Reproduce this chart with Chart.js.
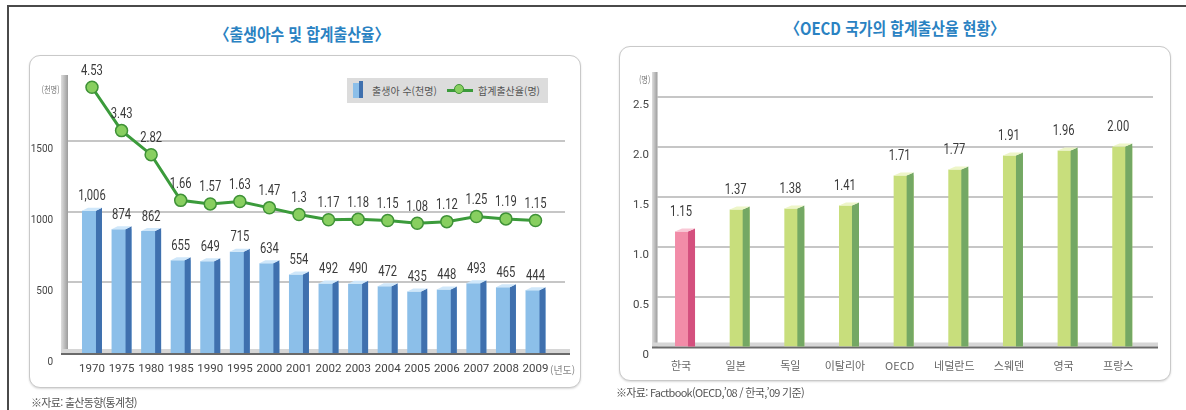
<!DOCTYPE html>
<html lang="ko">
<head>
<meta charset="utf-8">
<script src="https://cdn.jsdelivr.net/npm/chart.js@4.4.1/dist/chart.umd.min.js"></script>
<style>
  body { margin: 0; width: 1186px; height: 410px; position: relative; overflow: hidden; background: #fff; font-family: 'Noto Sans CJK KR', sans-serif; }
  .frame-top { position: absolute; left: 7px; top: 5px; width: 1179px; height: 2px; background: #4a4a4a; }
  .frame-left { position: absolute; left: 7px; top: 5px; width: 2px; height: 405px; background: #4a4a4a; }
  .panel { position: absolute; border: 1.5px solid #c9c9c9; border-radius: 11px; box-shadow: 0 1px 2px rgba(0,0,0,0.15); background: #fff; }
  .title { position: absolute; text-align: center; color: #2a82c2; font-size: 16.5px; font-weight: bold; white-space: nowrap; }
  .title span { display: inline-block; transform: scaleX(0.9); }
  .note { position: absolute; font-size: 11px; color: #555; letter-spacing: -0.7px; white-space: nowrap; }
  .unit { position: absolute; font-size: 9px; color: #777; white-space: nowrap; }
  canvas { position: absolute; top: 0; }
  #legend { position: absolute; left: 347px; top: 78px; width: 201px; height: 25px; background: #dcdcdc; font-size: 10px; color: #555; z-index: 2; }
  #legend .bar-ico { position: absolute; left: 6px; top: 5px; width: 6px; height: 15px; background: #8cbfe9; }
  #legend .bar-ico::after { content: ''; position: absolute; left: 6px; top: -2px; width: 4px; height: 17px; background: #3f70ae; }
  #legend .t1 { position: absolute; left: 25px; top: 5px; }
  #legend .line-ico { position: absolute; left: 100px; top: 11px; width: 26px; height: 3px; background: #3b9b3b; }
  #legend .line-ico::after { content: ''; position: absolute; left: 7px; top: -5px; width: 10px; height: 10px; border-radius: 50%; background: #88cf60; border: 1px solid #3f9237; box-sizing: border-box; }
  #legend .t2 { position: absolute; left: 131px; top: 5px; }
</style>
</head>
<body>
<div class="frame-top"></div>
<div class="frame-left"></div>

<div class="panel" style="left:29px;top:55px;width:550px;height:331px"></div>
<div class="panel" style="left:619px;top:46px;width:550px;height:333px"></div>

<div class="title" style="left:0;width:604px;top:22px"><span>〈출생아수 및 합계출산율〉</span></div>
<div class="title" style="left:620px;width:550px;top:16px"><span>〈OECD 국가의 합계출산율 현황〉</span></div>

<canvas id="births" width="600" height="410" style="left:0"></canvas>
<canvas id="oecd" width="586" height="410" style="left:600px"></canvas>

<div id="legend">
  <span class="bar-ico"></span><span class="t1">출생아 수(천명)</span>
  <span class="line-ico"></span><span class="t2">합계출산율(명)</span>
</div>

<div class="unit" style="right:1126px;top:83px;transform:scaleX(0.8);transform-origin:right">(천명)</div>
<div class="unit" style="left:550px;top:362px;font-size:10px;color:#888">(년도)</div>
<div class="unit" style="right:536px;top:73px;transform:scaleX(0.8);transform-origin:right">(명)</div>

<div class="note" style="left:31px;top:394px">※자료: 출산동향(통계청)</div>
<div class="note" style="left:616px;top:384px">※자료: Factbook(OECD,’08 / 한국,’09 기준)</div>

<script>
// 출생아 수 및 합계출산율
const years = ['1970', '1975', '1980', '1985', '1990', '1995', '2000', '2001', '2002', '2003', '2004', '2005', '2006', '2007', '2008', '2009'];
const births = [1006, 874, 862, 655, 649, 715, 634, 554, 492, 490, 472, 435, 448, 493, 465, 444];
const tfr = [4.53, 3.43, 2.82, 1.66, 1.57, 1.63, 1.47, 1.3, 1.17, 1.18, 1.15, 1.08, 1.12, 1.25, 1.19, 1.15];
const birthTicks = [0, 500, 1000, 1500];

// OECD 국가의 합계출산율
const countries = ['한국', '일본', '독일', '이탈리아', 'OECD', '네덜란드', '스웨덴', '영국', '프랑스'];
const oecdTfr = [1.15, 1.37, 1.38, 1.41, 1.71, 1.77, 1.91, 1.96, 2.00];
const oecdTicks = [0, 0.5, 1.0, 1.5, 2.0, 2.5];

const NUM = "Roboto, 'Liberation Sans', sans-serif";
const KOREAN = "'Noto Sans CJK KR', sans-serif";

// 벽, 바닥, 눈금선
const backdrop = {
    id: 'backdrop',
    beforeDatasetsDraw(chart, args, o) {
        const { ctx, chartArea } = chart;
        const y = chart.scales.y;
        ctx.save();
        ctx.strokeStyle = '#c6c6c6';
        ctx.lineWidth = 2;
        y.ticks.forEach(t => {
            if (t.value === 0) return;
            const py = Math.round(y.getPixelForValue(t.value));
            ctx.beginPath();
            ctx.moveTo(o.wall[1], py);
            ctx.lineTo(o.gridEnd, py);
            ctx.stroke();
        });
        const g = ctx.createLinearGradient(o.wall[0], 0, o.wall[1], 0);
        g.addColorStop(0, '#dedede');
        g.addColorStop(1, '#9c9c9c');
        ctx.fillStyle = g;
        ctx.fillRect(o.wall[0], chartArea.top, o.wall[1] - o.wall[0], chartArea.bottom - chartArea.top);
        ctx.fillStyle = '#d6d6d6';
        ctx.fillRect(o.wall[0], chartArea.bottom - 4, o.floorEnd - o.wall[0], 4);
        ctx.fillStyle = '#6a6a6a';
        ctx.fillRect(o.wall[0], chartArea.bottom, o.floorEnd - o.wall[0], 2);
        ctx.restore();
    }
};

// 막대 옆면과 윗면
const bar3d = {
    id: 'bar3d',
    afterDatasetDraw(chart, args, o) {
        if (args.meta.type !== 'bar') return;
        const ctx = chart.ctx;
        ctx.save();
        args.meta.data.forEach((bar, i) => {
            const { x, y, base, width } = bar.getProps(['x', 'y', 'base', 'width'], true);
            const x0 = x - width / 2, x1 = x + width / 2, d = o.depth, r = o.rise;
            const c = o.colors(i);
            ctx.fillStyle = c.side;
            ctx.beginPath();
            ctx.moveTo(x1 - d, y);
            ctx.lineTo(x1, y - r);
            ctx.lineTo(x1, base);
            ctx.lineTo(x1 - d, base);
            ctx.closePath();
            ctx.fill();
            ctx.fillStyle = c.top;
            ctx.beginPath();
            ctx.moveTo(x0, y);
            ctx.lineTo(x1 - d, y);
            ctx.lineTo(x1, y - r);
            ctx.lineTo(x0 + d, y - r);
            ctx.closePath();
            ctx.fill();
        });
        ctx.restore();
    }
};

// 값 표시 (좁은 글꼴 흉내: 가로로 눌러서 그림)
const valueLabels = {
    id: 'valueLabels',
    afterDatasetsDraw(chart, args, o) {
        const ctx = chart.ctx;
        chart.data.datasets.forEach((ds, di) => {
            const meta = chart.getDatasetMeta(di);
            const fmt = o.format[di];
            meta.data.forEach((el, i) => {
                const shift = meta.type === 'bar' ? o.barShift : 0;
                const gap = meta.type === 'bar' ? o.barGap : o.lineGap;
                ctx.save();
                ctx.font = o.font;
                ctx.fillStyle = '#3a3a3a';
                ctx.textAlign = 'center';
                ctx.textBaseline = 'middle';
                ctx.translate(el.x + shift, el.y - gap);
                ctx.scale(o.squeeze, 1);
                ctx.fillText(fmt(ds.data[i]), 0, 0);
                ctx.restore();
            });
        });
    }
};

const blue = { side: '#3f70ae', top: '#cfe7fa' };
new Chart(document.getElementById('births'), {
    type: 'bar',
    data: {
        labels: years,
        datasets: [
            {
                type: 'line',
                label: '합계출산율(명)',
                data: tfr,
                yAxisID: 'y1',
                borderColor: '#3b9b3b',
                borderWidth: 3,
                pointRadius: 6,
                pointBackgroundColor: '#88cf60',
                pointBorderColor: '#3f9237',
                pointBorderWidth: 1.5,
                order: 1
            },
            {
                label: '출생아 수(천명)',
                data: births,
                backgroundColor: '#8cbfe9',
                categoryPercentage: 1,
                barPercentage: 0.676,
                order: 2
            }
        ]
    },
    options: {
        responsive: false,
        animation: false,
        layout: { padding: { left: 0, right: 49.7, top: 75, bottom: 27 } },
        plugins: {
            legend: { display: false },
            tooltip: { enabled: false },
            backdrop: { wall: [61, 68], gridEnd: 565, floorEnd: 570 },
            bar3d: { depth: 6, rise: 3, colors: () => blue },
            valueLabels: {
                font: '14px ' + NUM, squeeze: 0.8,
                format: [v => String(v), v => v.toLocaleString('en-US')],
                barShift: 0, barGap: 14, lineGap: 16
            }
        },
        scales: {
            x: {
                offset: true,
                grid: { display: false, drawTicks: false },
                border: { display: false },
                ticks: { font: { family: NUM, size: 11.5 }, color: '#444', padding: 9, maxRotation: 0, autoSkip: false },
                afterFit: s => { s.height = 30; }
            },
            y: {
                min: 0, max: 1965,
                afterBuildTicks: s => { s.ticks = birthTicks.map(v => ({ value: v })); },
                grid: { display: false, drawTicks: false },
                border: { display: false },
                ticks: {
                    font: { family: NUM, size: 10 }, color: '#444', padding: 24, labelOffset: 9,
                    callback: v => String(v)
                },
                afterFit: s => { s.width = 77.2; }
            },
            y1: { display: false, min: -2.213, max: 4.841 }
        }
    },
    plugins: [backdrop, bar3d, valueLabels]
});

const pink = { side: '#d4507e', top: '#f9c8d6' };
const green = { side: '#74a864', top: '#eef6c8' };
new Chart(document.getElementById('oecd'), {
    type: 'bar',
    data: {
        labels: countries,
        datasets: [{
            label: '합계출산율',
            data: oecdTfr,
            backgroundColor: countries.map(c => c === '한국' ? '#f28ca8' : '#c8de7c'),
            categoryPercentage: 1,
            barPercentage: 0.366
        }]
    },
    options: {
        responsive: false,
        animation: false,
        layout: { padding: { left: 0, right: 36.4, top: 72, bottom: 33.5 } },
        plugins: {
            legend: { display: false },
            tooltip: { enabled: false },
            backdrop: { wall: [52, 57.5], gridEnd: 553, floorEnd: 558 },
            bar3d: { depth: 7, rise: 3, colors: i => countries[i] === '한국' ? pink : green },
            valueLabels: {
                font: '14px ' + NUM, squeeze: 0.8,
                format: [v => v.toFixed(2)],
                barShift: -4, barGap: 19, lineGap: 0
            }
        },
        scales: {
            x: {
                offset: true,
                grid: { display: false, drawTicks: false },
                border: { display: false },
                ticks: { font: { family: KOREAN, size: 11 }, color: '#666', padding: 13, labelOffset: -4, maxRotation: 0, autoSkip: false },
                afterFit: s => { s.height = 30; }
            },
            y: {
                min: 0, max: 2.745,
                afterBuildTicks: s => { s.ticks = oecdTicks.map(v => ({ value: v })); },
                grid: { display: false, drawTicks: false },
                border: { display: false },
                ticks: {
                    font: { family: NUM, size: 11.5 }, color: '#444', padding: 8.7, labelOffset: 9,
                    callback: v => v === 0 ? '0' : v.toFixed(1)
                },
                afterFit: s => { s.width = 57.7; }
            }
        }
    },
    plugins: [backdrop, bar3d, valueLabels]
});
</script>
</body>
</html>
